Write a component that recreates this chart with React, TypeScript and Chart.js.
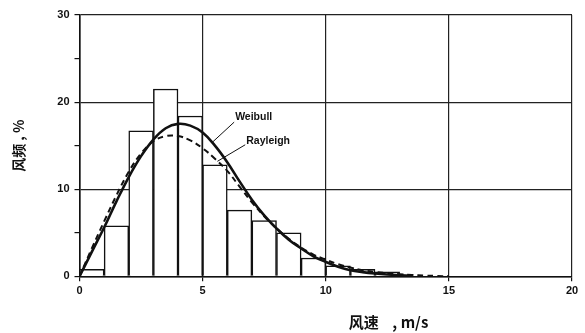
import React, { useEffect, useRef } from "react";
import { Chart, registerables } from "chart.js";

Chart.register(...registerables);

// Histogram bins (m/s) and measured frequency (%)
const binCenters = [0.5, 1.5, 2.5, 3.5, 4.5, 5.5, 6.5, 7.5, 8.5, 9.5, 10.5, 11.5, 12.5];
const binFreq = [0.8, 5.8, 16.7, 21.5, 18.4, 12.8, 7.6, 6.4, 5.0, 2.1, 1.2, 0.8, 0.5];

// Fitted curves
const weibullX = [0, 0.5, 1, 1.5, 2, 2.5, 3, 3.5, 4, 4.5, 5, 5.5, 6, 6.5, 7, 7.5, 8, 8.5, 9, 9.5, 10, 10.5, 11, 11.5, 12, 12.5, 13, 13.5];
const weibullY = [0, 2.8, 5.6, 8.6, 11.4, 13.8, 15.7, 17.0, 17.5, 17.3, 16.5, 15.0, 13.1, 10.9, 8.8, 7.0, 5.5, 4.2, 3.2, 2.3, 1.65, 1.1, 0.7, 0.48, 0.32, 0.2, 0.12, 0.05];
const rayleighX = [0, 0.5, 1, 1.5, 2, 2.5, 3, 3.5, 4, 4.5, 5, 5.5, 6, 6.5, 7, 7.5, 8, 8.5, 9, 9.5, 10, 10.5, 11, 11.5, 12, 12.5, 13, 13.5, 14, 14.5, 15];
const rayleighY = [0, 3.2, 6.3, 9.3, 12.0, 14.1, 15.5, 16.1, 16.1, 15.6, 14.7, 13.5, 12.1, 10.3, 8.5, 6.9, 5.5, 4.3, 3.3, 2.5, 1.9, 1.4, 1.0, 0.7, 0.5, 0.35, 0.24, 0.15, 0.08, 0.04, 0];

const xTicks = [0, 5, 10, 15, 20];
const yTicks = [0, 10, 20, 30];

const xTitle = "风速    , m/s";
const yTitle = "风频 , %";

// Curve labels and leader lines (data coordinates)
const labels = [
  { text: "Weibull", x: 6.32, y: 18.3, lx1: 6.28, ly1: 17.7, lx2: 5.4, ly2: 15.4 },
  { text: "Rayleigh", x: 6.77, y: 15.5, lx1: 6.73, ly1: 15.1, lx2: 5.6, ly2: 13.2 },
];

const FONT = "'Liberation Sans', Arial, sans-serif";

export default function App() {
  const ref = useRef<HTMLCanvasElement | null>(null);

  useEffect(() => {
    if (!ref.current) return;

    const annotate = {
      id: "annotate",
      afterDatasetsDraw(chart: any) {
        const { ctx, scales } = chart;
        const xs = scales.x;
        const ys = scales.y;
        ctx.save();
        ctx.fillStyle = "#111";
        ctx.strokeStyle = "#111";
        ctx.lineWidth = 1;
        ctx.font = `bold 10.5px ${FONT}`;
        ctx.textBaseline = "middle";
        ctx.textAlign = "left";
        for (const l of labels) {
          ctx.fillText(l.text, xs.getPixelForValue(l.x), ys.getPixelForValue(l.y));
          ctx.beginPath();
          ctx.moveTo(xs.getPixelForValue(l.lx1), ys.getPixelForValue(l.ly1));
          ctx.lineTo(xs.getPixelForValue(l.lx2), ys.getPixelForValue(l.ly2));
          ctx.stroke();
        }
        // x axis title
        ctx.font = `bold 15px 'Noto Sans CJK SC', ${FONT}`;
        ctx.textAlign = "center";
        ctx.fillText(xTitle, xs.getPixelForValue(12.55), 322);
        ctx.restore();
      },
    };

    const chart = new Chart(ref.current, {
      type: "bar",
      data: {
        datasets: [
          {
            type: "line",
            label: "Weibull",
            data: weibullX.map((x, i) => ({ x, y: weibullY[i] })),
            borderColor: "#111",
            borderWidth: 2.6,
            pointRadius: 0,
            tension: 0.4,
            fill: false,
            order: 1,
          } as any,
          {
            type: "line",
            label: "Rayleigh",
            data: rayleighX.map((x, i) => ({ x, y: rayleighY[i] })),
            borderColor: "#111",
            borderWidth: 2,
            borderDash: [6, 4],
            pointRadius: 0,
            tension: 0.4,
            fill: false,
            order: 2,
          } as any,
          {
            type: "bar",
            label: "freq",
            data: binCenters.map((x, i) => ({ x, y: binFreq[i] })),
            backgroundColor: "#fff",
            borderColor: "#111",
            borderWidth: 1.5,
            barPercentage: 1,
            categoryPercentage: 1,
            order: 3,
          } as any,
        ],
      },
      options: {
        responsive: false,
        animation: false,
        layout: { padding: { top: 15, right: 13, left: 0, bottom: 0 } },
        plugins: { legend: { display: false }, tooltip: { enabled: false } },
        scales: {
          x: {
            type: "linear",
            min: 0,
            max: 20,
            offset: false,
            afterFit: (s: any) => {
              s.height = 56.7;
            },
            afterBuildTicks: (s: any) => {
              s.ticks = xTicks.map((v) => ({ value: v }));
            },
            grid: {
              offset: false,
              color: "#222",
              lineWidth: 1.2,
              tickColor: "#111",
              tickLength: 5,
              drawTicks: true,
            },
            border: { color: "#111", width: 1.6 },
            ticks: {
              color: "#111",
              padding: 3,
              maxRotation: 0,
              font: { family: FONT, size: 11, weight: "bold" },
            },
          },
          y: {
            type: "linear",
            min: 0,
            max: 30,
            afterFit: (s: any) => {
              s.width = 79.5;
            },
            ticks: {
              stepSize: 5,
              color: "#111",
              padding: 5,
              font: { family: FONT, size: 11, weight: "bold" },
              callback: (v: any) => (yTicks.includes(v) ? String(v) : ""),
            },
            grid: {
              offset: false,
              color: (c: any) => (c.tick && c.tick.value % 10 === 0 ? "#222" : "rgba(0,0,0,0)"),
              lineWidth: 1.2,
              tickColor: "#111",
              tickLength: 5,
              drawTicks: true,
            },
            border: { color: "#111", width: 1.6 },
            title: {
              display: true,
              text: yTitle,
              color: "#111",
              padding: { top: 10, bottom: 4 },
              font: { family: `'Noto Sans CJK SC', ${FONT}`, size: 14, weight: "bold" },
            },
          },
        },
      },
      plugins: [annotate],
    });

    return () => chart.destroy();
  }, []);

  return (
    <div style={{ position: "absolute", left: 0, top: 0, width: 585, height: 333, background: "#fff" }}>
      <canvas ref={ref} width={585} height={333} />
    </div>
  );
}
